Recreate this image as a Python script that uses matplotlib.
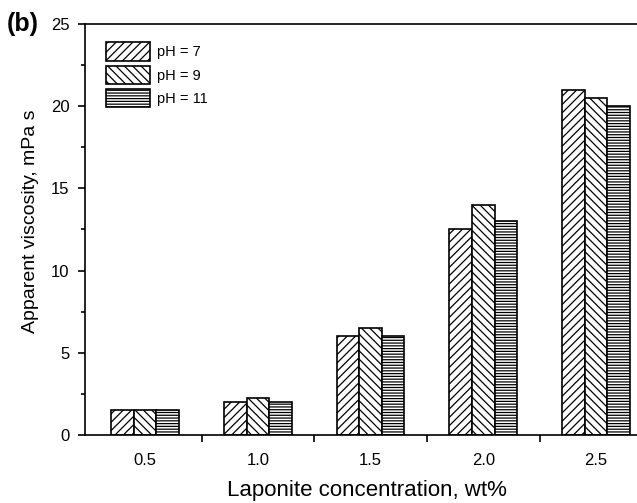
import matplotlib.pyplot as plt
import numpy as np
from matplotlib.ticker import MultipleLocator, FixedLocator

plt.rcParams['font.family'] = ['Liberation Sans', 'DejaVu Sans']
plt.rcParams['hatch.linewidth'] = 0.9

# Datos
concentrations = [0.5, 1.0, 1.5, 2.0, 2.5]
tick_labels = ['0.5', '1.0', '1.5', '2.0', '2.5']
series_labels = ['pH = 7', 'pH = 9', 'pH = 11']
visc_ph7 = [1.5, 2.0, 6.0, 12.5, 21.0]
visc_ph9 = [1.5, 2.25, 6.5, 14.0, 20.5]
visc_ph11 = [1.5, 2.0, 6.0, 13.0, 20.0]

hatches = ['////', '\\\\\\\\', '------']
width = 0.1

fig = plt.figure(figsize=(6.37, 5.03), dpi=100)
ax = fig.add_axes([0.1334, 0.1352, 0.8666, 0.8171])

x = np.array(concentrations)
for k, (vals, lab, h) in enumerate(zip([visc_ph7, visc_ph9, visc_ph11], series_labels, hatches)):
    ax.bar(x + (k - 1) * width, vals, width, color='white', edgecolor='black',
           hatch=h, linewidth=1.2, label=lab)

ax.set_xlim(0.233, 2.682)
ax.set_ylim(0, 25)

# Ejes
ax.spines['right'].set_visible(False)
ax.yaxis.set_major_locator(MultipleLocator(5))
ax.yaxis.set_minor_locator(MultipleLocator(2.5))
ax.set_xticks(concentrations)
ax.set_xticklabels(tick_labels)
ax.xaxis.set_minor_locator(FixedLocator([0.75, 1.25, 1.75, 2.25]))
ax.tick_params(axis='x', which='major', length=0, pad=13, labelsize=12)
ax.tick_params(axis='x', which='minor', length=5, width=1.2, direction='out')
ax.tick_params(axis='y', which='major', length=5, width=1.2, direction='out', pad=6, labelsize=12)
ax.tick_params(axis='y', which='minor', length=3, width=1.2, direction='out')
ax.tick_params(top=False, right=False, which='both')
for s in ['left', 'bottom', 'top']:
    ax.spines[s].set_linewidth(1.2)

ax.set_xlabel('Laponite concentration, wt%', fontsize=16)
ax.xaxis.set_label_coords(0.51, -0.11)
ax.set_ylabel('Apparent viscosity, mPa s', fontsize=14)
ax.yaxis.set_label_coords(-0.083, 0.52)

fig.text(0.011, 0.952, '(b)', fontsize=18, fontweight='bold', ha='left', va='center')

ax.legend(loc='upper left', bbox_to_anchor=(0.02, 0.98), frameon=False,
          handlelength=3.0, handleheight=1.55, labelspacing=0.35,
          handletextpad=0.5, fontsize=10.5, borderaxespad=0.3)

fig.savefig('out.png', dpi=100)
